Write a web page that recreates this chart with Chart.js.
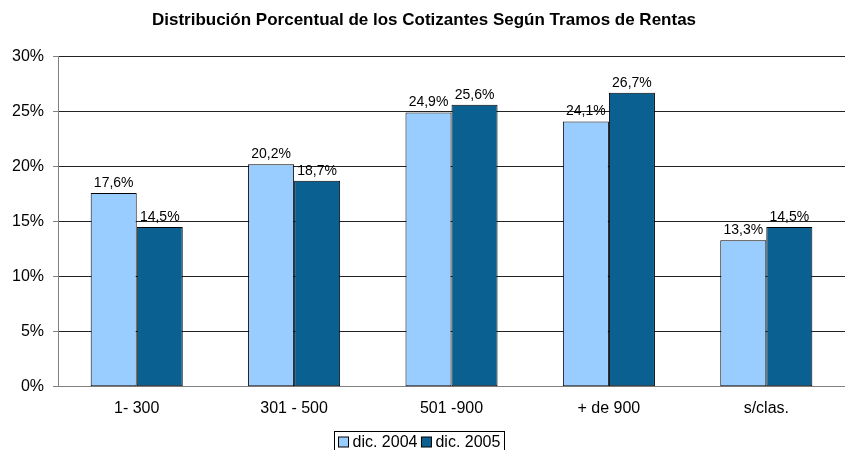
<!DOCTYPE html>
<html>
<head>
<meta charset="utf-8">
<script src="https://cdn.jsdelivr.net/npm/chart.js@4/dist/chart.umd.min.js"></script>
<style>
  html, body { margin: 0; padding: 0; background: #fff; }
  #wrap { width: 845px; height: 450px; }
</style>
</head>
<body>
<div id="wrap"><canvas id="grafico"></canvas></div>
<script>
const tramos = ['1- 300', '301 - 500', '501 -900', '+ de 900', 's/clas.'];
const serie2004 = [17.6, 20.2, 24.9, 24.1, 13.3];
const serie2005 = [14.5, 18.7, 25.6, 26.7, 14.5];
const nombresSeries = ['dic. 2004', 'dic. 2005'];
const ticksY = [0, 5, 10, 15, 20, 25, 30];

const fuente = '"Liberation Sans", Arial, sans-serif';

function fmtPct(v) {
    return v.toFixed(1).replace('.', ',') + '%';
}

// etiquetas encima de cada barra
const etiquetas = {
    id: 'etiquetas',
    afterDatasetsDraw(chart) {
        const ctx = chart.ctx;
        ctx.save();
        ctx.font = '14px ' + fuente;
        ctx.fillStyle = '#000';
        ctx.textAlign = 'center';
        ctx.textBaseline = 'bottom';
        chart.data.datasets.forEach((ds, i) => {
            chart.getDatasetMeta(i).data.forEach((bar, j) => {
                ctx.fillText(fmtPct(ds.data[j]), bar.x, bar.y - 3);
            });
        });
        ctx.restore();
    }
};

// leyenda con marco, estilo Excel
const leyendaMarco = {
    id: 'leyendaMarco',
    afterDraw(chart) {
        const ctx = chart.ctx;
        ctx.save();
        ctx.font = '16px ' + fuente;
        const cuadro = 10, sep = 4, pad = 4;
        let ancho = pad * 2;
        chart.data.datasets.forEach((ds, i) => {
            ancho += cuadro + sep + ctx.measureText(ds.label).width + (i > 0 ? sep : 0);
        });
        const x0 = Math.round(419 - ancho / 2) + 0.5;
        const y0 = 431.5;
        ctx.strokeStyle = '#000';
        ctx.lineWidth = 1;
        ctx.strokeRect(x0, y0, Math.round(ancho), 19);
        let x = x0 + pad;
        ctx.textBaseline = 'alphabetic';
        chart.data.datasets.forEach((ds, i) => {
            if (i > 0) x += sep;
            ctx.fillStyle = ds.backgroundColor;
            ctx.fillRect(x, y0 + 5.5, cuadro, cuadro);
            ctx.strokeRect(x, y0 + 5.5, cuadro, cuadro);
            x += cuadro + sep;
            ctx.fillStyle = '#000';
            ctx.fillText(ds.label, x, y0 + 15.5);
            x += ctx.measureText(ds.label).width;
        });
        ctx.restore();
    }
};

new Chart(document.getElementById('grafico'), {
    type: 'bar',
    data: {
        labels: tramos,
        datasets: [
            {
                label: nombresSeries[0],
                data: serie2004,
                backgroundColor: '#99ccff',
                borderColor: '#000',
                borderWidth: 1,
                borderSkipped: false
            },
            {
                label: nombresSeries[1],
                data: serie2005,
                backgroundColor: '#0a6191',
                borderColor: '#000',
                borderWidth: 1,
                borderSkipped: false
            }
        ]
    },
    options: {
        responsive: true,
        maintainAspectRatio: false,
        animation: false,
        layout: { padding: { left: 3, right: 0, top: 0, bottom: 20 } },
        datasets: { bar: { categoryPercentage: 0.585, barPercentage: 1.0 } },
        scales: {
            x: {
                grid: { display: false, drawTicks: false },
                border: { color: '#808080' },
                ticks: { color: '#000', font: { family: fuente, size: 16 }, padding: 12 }
            },
            y: {
                min: 0,
                max: 30,
                afterBuildTicks(axis) { axis.ticks = ticksY.map(v => ({ value: v })); },
                grid: { color: '#222', tickLength: 5, tickColor: '#808080' },
                border: { color: '#808080' },
                ticks: {
                    color: '#000',
                    font: { family: fuente, size: 16 },
                    padding: 9,
                    callback: v => v + '%'
                }
            }
        },
        plugins: {
            title: {
                display: true,
                text: 'Distribución Porcentual de los Cotizantes Según Tramos de Rentas',
                color: '#000',
                font: { family: fuente, size: 17, weight: 'bold' },
                padding: { top: 10, bottom: 26 }
            },
            legend: { display: false },
            tooltip: { enabled: false }
        }
    },
    plugins: [etiquetas, leyendaMarco]
});
</script>
</body>
</html>
